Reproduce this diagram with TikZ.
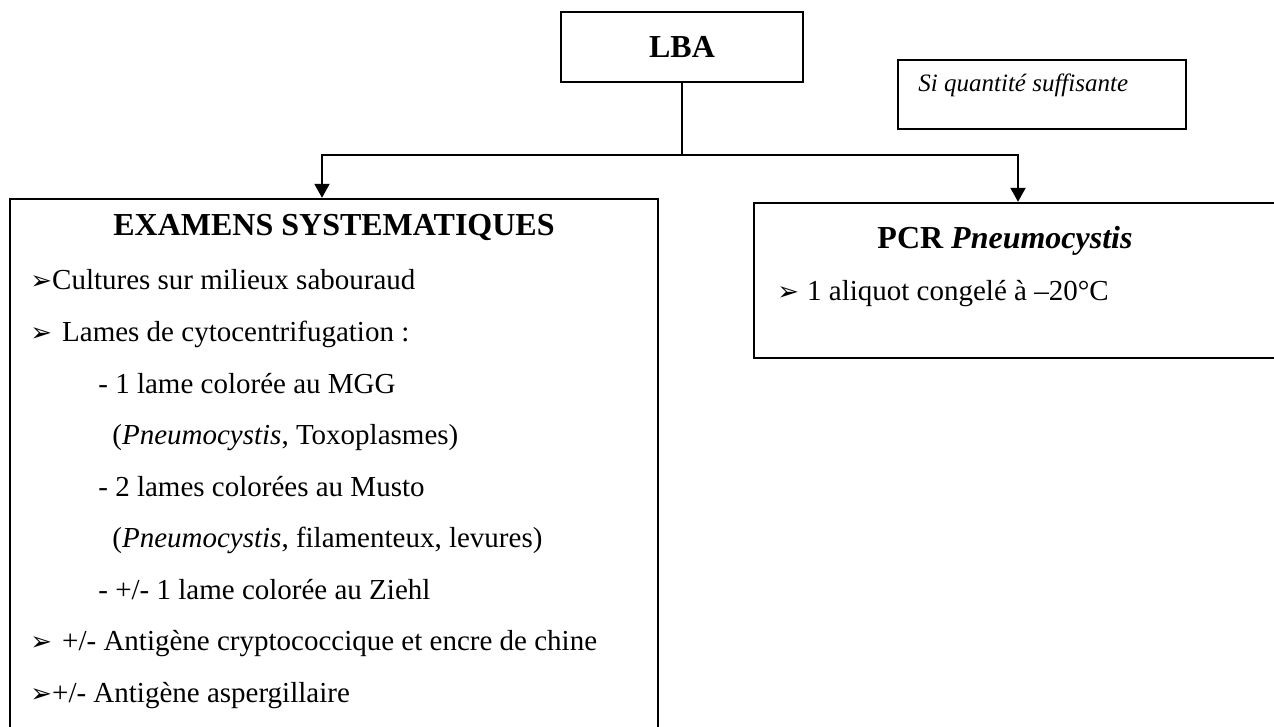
\documentclass[tikz,border=0pt]{standalone}
\usepackage{fontspec}
\setmainfont{Liberation Serif}
\newfontfamily\symbfont{DejaVu Sans}
\usetikzlibrary{arrows.meta,positioning}
\newcommand{\arrowbullet}{{\symbfont\fontsize{13}{15}\selectfont ➢}}

\begin{document}
\begin{tikzpicture}[
    x=0.5pt, y=-0.5pt,
    >={Triangle[length=7pt,width=7.5pt]},
    line/.style={line width=1pt},
    arr/.style={->, line width=1pt},
    box/.style={draw, line width=1.2pt, inner sep=0pt},
    head/.style={font=\bfseries\fontsize{16}{19}\selectfont},
    item/.style={anchor=base west, inner sep=0pt, font=\fontsize{14.5}{17}\selectfont}
  ]
  \useasboundingbox (0,0) rectangle (1274,727);
  \clip (0,0) rectangle (1274,727);

  % Boxes
  \node (lba)  [box, head, minimum width=121pt, minimum height=35pt]   at (682,47)    {LBA};
  \node (si)   [box, minimum width=144pt, minimum height=34.5pt]       at (1042,94.5) {};
  \node (exam) [box, minimum width=324pt, minimum height=283pt]        at (334,482)   {};
  \node (pcr)  [box, minimum width=268pt, minimum height=77.5pt]       at (1022,280.5) {};

  % Connectors
  \coordinate (fork) at (682,155);
  \draw[line] (lba.south) -- (fork);
  \draw[arr]  (fork) -| ([xshift=-6pt]exam.north);
  \draw[arr]  (fork) -| ([xshift=-2pt]pcr.north);

  % Condition
  \node (sitxt) [anchor=base west, inner sep=0pt, font=\itshape\fontsize{12.5}{14}\selectfont]
        at (918,92) {Si quantité suffisante};

  % Systematic exams
  \node (examhead) [head, anchor=base] at (334,236) {EXAMENS SYSTEMATIQUES};
  \node (cult)   [item] at (30,290)  {\arrowbullet Cultures sur milieux sabouraud};
  \node (lames)  [item] at (30,341)  {\arrowbullet\hspace{5pt}Lames de cytocentrifugation :};
  \node (mgg)    [item] at (98,393)  {- 1 lame colorée au MGG};
  \node (toxo)   [item] at (112,444) {(\textit{Pneumocystis}, Toxoplasmes)};
  \node (musto)  [item] at (98,496)  {- 2 lames colorées au Musto};
  \node (filam)  [item] at (112,547) {(\textit{Pneumocystis}, filamenteux, levures)};
  \node (ziehl)  [item] at (98,599)  {- +/- 1 lame colorée au Ziehl};
  \node (crypto) [item] at (30,650)  {\arrowbullet\hspace{5pt}+/- Antigène cryptococcique et encre de chine};
  \node (asperg) [item] at (30,702)  {\arrowbullet +/- Antigène aspergillaire};

  % PCR
  \node (pcrhead) [head, anchor=base] at (1005,249) {PCR \textit{Pneumocystis}};
  \node (pcr1)    [item] at (777,300) {\arrowbullet\hspace{4pt}1 aliquot congelé à –20°C};
\end{tikzpicture}
\end{document}
